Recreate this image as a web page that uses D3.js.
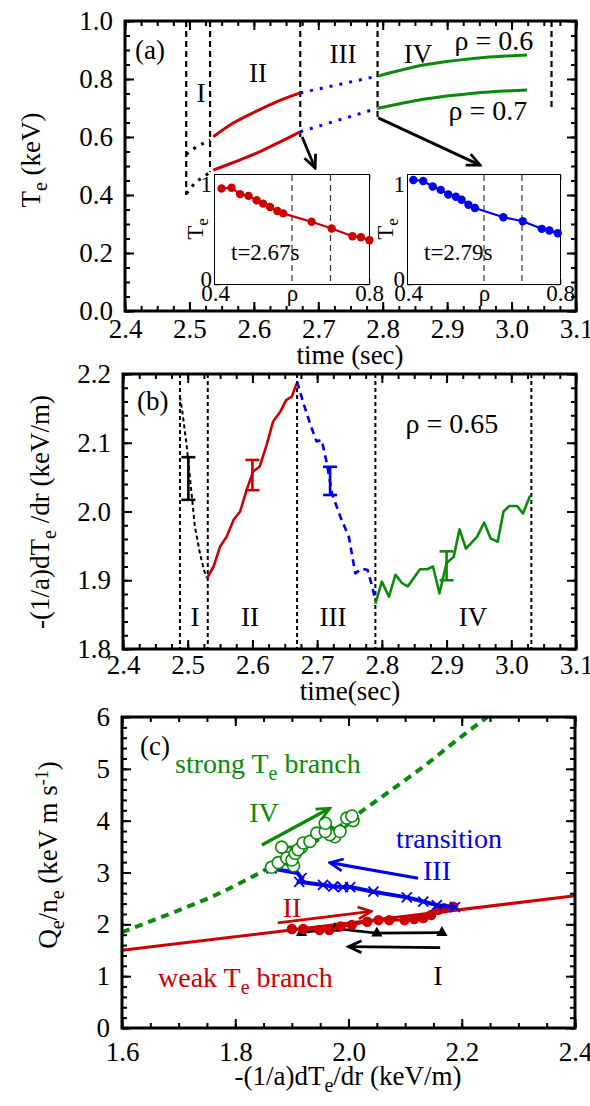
<!DOCTYPE html>
<html>
<head>
<meta charset="utf-8">
<script src="https://cdn.jsdelivr.net/npm/d3@7"></script>
<style>
body { margin: 0; background: #fff; }
</style>
</head>
<body>
<script>
var width = 590;
var height = 1106;
var serif = "'Liberation Serif', 'Times New Roman', serif";
var RED = "#cc0000", GREEN = "#0a8a0a", BLUE = "#0000ee";

// ---- panel (a): Te traces [time, Te]
var a06Pre = [[2.495, 0.54], [2.51, 0.565], [2.532, 0.59]];
var a06II = [[2.537, 0.601], [2.568, 0.648], [2.605, 0.69], [2.636, 0.722], [2.672, 0.752]];
var a06III = [[2.672, 0.752], [2.792, 0.81]];
var a06IV = [[2.793, 0.81], [2.863, 0.848], [2.941, 0.871], [3.024, 0.883]];
var a07Pre = [[2.495, 0.405], [2.51, 0.445], [2.532, 0.478]];
var a07II = [[2.537, 0.486], [2.568, 0.512], [2.605, 0.545], [2.636, 0.578], [2.672, 0.618]];
var a07III = [[2.672, 0.618], [2.792, 0.699]];
var a07IV = [[2.793, 0.699], [2.863, 0.730], [2.941, 0.751], [3.024, 0.762]];
var aLinesT = [2.495, 2.532, 2.672, 2.792, 3.062];
var aLinesBottom = [0.40, 0.48, 0.60, 0.666, 0.70];
var aArrow1 = [[2.675, 0.60], [2.695, 0.493]];
var aArrow2 = [[2.793, 0.666], [2.951, 0.503]];

// insets: Te profiles [rho, Te]
var inset267 = [[0.417, 1.008], [0.443, 1.015], [0.465, 0.948], [0.487, 0.93], [0.508, 0.883],
  [0.525, 0.848], [0.543, 0.813], [0.562, 0.77], [0.577, 0.745], [0.651, 0.656],
  [0.703, 0.585], [0.757, 0.504], [0.779, 0.493], [0.801, 0.461]];
var inset279 = [[0.414, 1.098], [0.440, 1.087], [0.465, 1.028], [0.486, 0.993], [0.506, 0.944],
  [0.526, 0.92], [0.541, 0.889], [0.559, 0.836], [0.576, 0.802], [0.651, 0.704],
  [0.702, 0.662], [0.752, 0.582], [0.772, 0.565], [0.794, 0.536]];

// ---- panel (b): gradient [time, -(1/a)dTe/dr]
var bI = [[2.488, 2.167], [2.492, 2.143], [2.498, 2.099], [2.506, 2.026], [2.511, 1.978],
  [2.519, 1.939], [2.525, 1.915], [2.530, 1.903]];
var bII = [[2.530, 1.903], [2.540, 1.920], [2.550, 1.949], [2.560, 1.963], [2.571, 1.988],
  [2.581, 2.0], [2.591, 2.031], [2.601, 2.058], [2.611, 2.065], [2.622, 2.097], [2.632, 2.131],
  [2.643, 2.145], [2.652, 2.162], [2.661, 2.167], [2.668, 2.186]];
var bIII = [[2.669, 2.189], [2.679, 2.157], [2.689, 2.128], [2.699, 2.102], [2.707, 2.104],
  [2.715, 2.070], [2.723, 2.026], [2.736, 1.992], [2.749, 1.963], [2.759, 1.910], [2.769, 1.917],
  [2.778, 1.915], [2.785, 1.891], [2.790, 1.871]];
var bIV = [[2.790, 1.866], [2.800, 1.898], [2.811, 1.876], [2.821, 1.908], [2.831, 1.896],
  [2.840, 1.891], [2.849, 1.903], [2.859, 1.916], [2.870, 1.916], [2.879, 1.920], [2.889, 1.881],
  [2.900, 1.925], [2.911, 1.934], [2.920, 1.974], [2.930, 1.946], [2.947, 1.963], [2.958, 1.984],
  [2.968, 1.961], [2.979, 1.956], [2.988, 2.0], [2.997, 2.008], [3.009, 2.008], [3.018, 1.997],
  [3.029, 2.023]];
var bLinesT = [2.488, 2.531, 2.669, 2.79, 3.031];
var errT = [2.501, 2.600, 2.720, 2.900];
var errLo = [2.017, 2.031, 2.024, 1.900];
var errHi = [2.079, 2.075, 2.065, 1.942];
var errColor = ["#000", RED, BLUE, GREEN];

// ---- panel (c): flux vs gradient [gradient, Q/n]
var cWeak = [[1.6, 1.5], [2.4, 2.55]];
var cStrong = [[1.6, 1.85], [1.70, 2.27], [1.76, 2.54], [1.82, 2.86], [1.86, 3.09], [1.94, 3.59],
  [2.014, 4.11], [2.073, 4.57], [2.132, 5.04], [2.191, 5.55], [2.245, 6.0]];
var cI = [[2.165, 1.84], [2.05, 1.83], [1.976, 1.92], [1.917, 1.84]];
var cII = [[1.90, 1.91], [1.92, 1.91], [1.949, 1.89], [1.966, 1.89], [1.986, 1.96], [2.006, 1.99],
  [2.033, 2.05], [2.053, 2.08], [2.072, 2.08], [2.099, 2.08], [2.116, 2.10], [2.132, 2.12],
  [2.146, 2.18], [2.159, 2.28], [2.169, 2.31], [2.185, 2.34]];
var cIII = [[2.188, 2.33], [2.156, 2.37], [2.132, 2.44], [2.103, 2.52], [2.044, 2.63], [2.003, 2.72],
  [1.99, 2.72], [1.973, 2.73], [1.955, 2.76], [1.913, 2.82], [1.917, 2.89], [1.91, 2.99],
  [1.88, 3.05], [1.864, 3.08]];
var cIIIMarks = [2.188, 2.156, 2.132, 2.103, 2.044, 2.003, 1.99, 1.973, 1.955, 1.913, 1.917, 1.864];
var cIV = [[1.864, 3.10], [1.876, 3.19], [1.903, 3.13], [1.891, 3.28], [1.900, 3.24], [1.882, 3.49],
  [1.917, 3.49], [1.906, 3.37], [1.911, 3.44], [1.920, 3.57], [1.932, 3.60], [1.944, 3.76],
  [1.976, 3.69], [1.967, 3.73], [1.959, 3.79], [1.959, 3.95], [1.985, 3.79], [2.008, 4.0],
  [1.997, 4.05], [2.006, 4.09]];
var cArrowI = [[2.162, 1.55], [2.0, 1.57]];
var cArrowII = [[1.875, 2.03], [2.04, 2.25]];
var cArrowIII = [[2.123, 2.89], [1.967, 3.19]];
var cArrowIV = [[1.847, 3.53], [1.967, 4.24]];

var svg = d3.select("body").append("svg")
  .attr("width", width)
  .attr("height", height)
  .style("font-family", serif);

var defs = svg.append("defs");
function marker(id, color) {
  defs.append("marker").attr("id", id)
    .attr("viewBox", "0 0 16 16").attr("refX", 14).attr("refY", 8)
    .attr("markerWidth", 16).attr("markerHeight", 16)
    .attr("markerUnits", "userSpaceOnUse").attr("orient", "auto")
    .append("path").attr("d", "M1,2 L14,8 L1,14")
    .attr("fill", "none").attr("stroke", color).attr("stroke-width", 2.8);
}
marker("arrK", "#000"); marker("arrR", RED); marker("arrB", BLUE); marker("arrG", GREEN);

// frame with inward ticks on four sides
function frame(x, y, o) {
  var g = svg.append("g");
  var xr = x.range(), yr = y.range();
  var sides = [
    [d3.axisBottom, "translate(0," + yr[0] + ")", x, true, true],
    [d3.axisTop, "translate(0," + yr[1] + ")", x, false, true],
    [d3.axisLeft, "translate(" + xr[0] + ",0)", y, true, false],
    [d3.axisRight, "translate(" + xr[1] + ",0)", y, false, false]
  ];
  sides.forEach(function (s) {
    var horiz = s[4];
    if ((horiz ? o.xMinor : o.yMinor).length) {
      var mi = g.append("g").attr("transform", s[1])
        .call(s[0](s[2]).tickValues(horiz ? o.xMinor : o.yMinor).tickSize(-o.minLen).tickFormat(""));
      mi.select(".domain").remove();
      mi.selectAll("line").attr("stroke-width", o.tw);
    }
    var ma = g.append("g").attr("transform", s[1])
      .call(s[0](s[2]).tickValues(horiz ? o.xMajor : o.yMajor).tickSize(-o.majLen)
        .tickPadding(horiz ? o.xPad : o.yPad)
        .tickFormat(s[3] ? (horiz ? o.xFmt : o.yFmt) : function () { return ""; }));
    ma.select(".domain").remove();
    ma.selectAll("line").attr("stroke-width", o.tw);
    ma.attr("font-family", serif).attr("font-size", o.fs);
    ma.selectAll("text").attr("fill", "#000");
    if (!horiz && o.yDy) ma.selectAll("text").attr("dy", o.yDy);
  });
  g.append("rect").attr("x", xr[0]).attr("y", yr[1])
    .attr("width", xr[1] - xr[0]).attr("height", yr[0] - yr[1])
    .attr("fill", "none").attr("stroke", "#000").attr("stroke-width", o.bw);
  return g;
}

function rng(a, b, s) { return d3.range(a, b + s / 2, s); }

function path(g, data, x, y, color, w, dash, curve) {
  var line = d3.line().x(function (d) { return x(d[0]); }).y(function (d) { return y(d[1]); })
    .curve(curve || d3.curveLinear);
  return g.append("path").datum(data).attr("d", line)
    .attr("fill", "none").attr("stroke", color).attr("stroke-width", w)
    .attr("stroke-dasharray", dash || null).attr("stroke-linejoin", "round");
}

function text(x, y, parts, size, color, anchor, rot) {
  var t = svg.append("text").attr("font-size", size).attr("fill", color || "#000")
    .attr("font-family", serif).attr("text-anchor", anchor || "start");
  if (rot) t.attr("transform", "translate(" + x + "," + y + ") rotate(-90)");
  else t.attr("x", x).attr("y", y);
  parts.forEach(function (p) {
    if (typeof p === "string") t.append("tspan").text(p);
    else t.append("tspan").attr("font-size", p.size).attr("dy", p.dy).text(p.t);
  });
  return t;
}

// ================= panel (a)
var xa = d3.scaleLinear().domain([2.4, 3.1]).range([125, 576]);
var ya = d3.scaleLinear().domain([0, 1]).range([311, 21]);
var ga = svg.append("g");
aLinesT.forEach(function (t, i) {
  ga.append("line").attr("x1", xa(t)).attr("x2", xa(t)).attr("y1", ya(1)).attr("y2", ya(aLinesBottom[i]))
    .attr("stroke", "#000").attr("stroke-width", 2.2).attr("stroke-dasharray", "6,4");
});
path(ga, a06Pre, xa, ya, "#000", 3, "3,6");
path(ga, a07Pre, xa, ya, "#000", 3, "3,6");
path(ga, a06II, xa, ya, RED, 3, null, d3.curveMonotoneX);
path(ga, a07II, xa, ya, RED, 3, null, d3.curveMonotoneX);
path(ga, a06III, xa, ya, BLUE, 3, "3,7");
path(ga, a07III, xa, ya, BLUE, 3, "3,7");
path(ga, a06IV, xa, ya, GREEN, 3, null, d3.curveMonotoneX);
path(ga, a07IV, xa, ya, GREEN, 3, null, d3.curveMonotoneX);
path(ga, aArrow1, xa, ya, "#000", 2.8).attr("marker-end", "url(#arrK)");
path(ga, aArrow2, xa, ya, "#000", 2.8).attr("marker-end", "url(#arrK)");

frame(xa, ya, {
  xMinor: rng(2.4, 3.1, 0.025), xMajor: rng(2.4, 3.1, 0.1),
  yMinor: rng(0, 1, 0.05), yMajor: rng(0, 1, 0.2),
  minLen: 5, majLen: 9, tw: 2, bw: 3, fs: 27, xPad: 8, yPad: 12,
  xFmt: d3.format(".1f"), yFmt: d3.format(".1f")
});

text(135, 59, ["(a)"], 27);
text(201, 102, ["I"], 27, "#000", "middle");
text(258, 82, ["II"], 27, "#000", "middle");
text(343, 63, ["III"], 27, "#000", "middle");
text(418, 63, ["IV"], 27, "#000", "middle");
text(494, 50, ["\u03c1 = 0.6"], 28, "#000", "middle");
text(488, 120, ["\u03c1 = 0.7"], 28, "#000", "middle");
text(40, 160, ["T", { t: "e", size: 20, dy: 7 }, { t: " (keV)", size: 27, dy: -7 }], 27, "#000", "middle", true);
text(350, 364, ["time (sec)"], 27, "#000", "middle");

// insets
function inset(x0, x1, data, color, label, labX) {
  var xi = d3.scaleLinear().domain([0.4, 0.8]).range([x0, x1]);
  var yi = d3.scaleLinear().domain([0, 1.15]).range([284, 175]);
  var g = svg.append("g");
  g.append("rect").attr("x", x0).attr("y", 175).attr("width", x1 - x0).attr("height", 109).attr("fill", "#fff");
  [0.6, 0.7].forEach(function (r) {
    g.append("line").attr("x1", xi(r)).attr("x2", xi(r)).attr("y1", yi(1.15)).attr("y2", yi(0))
      .attr("stroke", "#333").attr("stroke-width", 1.2).attr("stroke-dasharray", "6,4");
  });
  frame(xi, yi, {
    xMinor: [], xMajor: rng(0.4, 0.8, 0.1),
    yMinor: [], yMajor: rng(0, 1.1, 0.1),
    minLen: 0, majLen: 5, tw: 1.5, bw: 2, fs: 23, xPad: 1, yPad: 3, yDy: "0.1em",
    xFmt: function (v) { return Math.abs(v - 0.4) < 1e-6 ? "0.4" : Math.abs(v - 0.6) < 1e-6 ? "\u03c1" : Math.abs(v - 0.8) < 1e-6 ? "0.8" : ""; },
    yFmt: function (v) { return Math.abs(v) < 1e-6 ? "0" : Math.abs(v - 1) < 1e-6 ? "1" : ""; }
  });
  path(g, data, xi, yi, color, 2.2);
  g.selectAll("circle").data(data).enter().append("circle")
    .attr("cx", function (d) { return xi(d[0]); }).attr("cy", function (d) { return yi(d[1]); })
    .attr("r", 4.2).attr("fill", color);
  // keep markers above frame ticks
  svg.node().appendChild(g.node());
  text(x0 + 16, 260, [label], 23);
  text(labX, 229, ["T", { t: "e", size: 17, dy: 5 }], 23, "#000", "middle", true);
}
inset(215, 369, inset267, RED, "t=2.67s", 203);
inset(408, 560, inset279, BLUE, "t=2.79s", 393);

// ================= panel (b)
var xb = d3.scaleLinear().domain([2.4, 3.1]).range([123, 576]);
var yb = d3.scaleLinear().domain([1.8, 2.2]).range([649, 374]);
var gb = svg.append("g");
bLinesT.forEach(function (t) {
  gb.append("line").attr("x1", xb(t)).attr("x2", xb(t)).attr("y1", yb(2.2)).attr("y2", yb(1.8))
    .attr("stroke", "#000").attr("stroke-width", 2).attr("stroke-dasharray", "4,3");
});
path(gb, bI, xb, yb, "#000", 2, "4,3");
path(gb, bII, xb, yb, RED, 2.6);
path(gb, bIII, xb, yb, BLUE, 2.6, "7,5");
path(gb, bIV, xb, yb, GREEN, 2.6);
errT.forEach(function (t, i) {
  var cx = xb(t);
  gb.append("line").attr("x1", cx).attr("x2", cx).attr("y1", yb(errLo[i])).attr("y2", yb(errHi[i]))
    .attr("stroke", errColor[i]).attr("stroke-width", 2.6);
  [errLo[i], errHi[i]].forEach(function (v) {
    gb.append("line").attr("x1", cx - 7).attr("x2", cx + 7).attr("y1", yb(v)).attr("y2", yb(v))
      .attr("stroke", errColor[i]).attr("stroke-width", 2.6);
  });
});
frame(xb, yb, {
  xMinor: rng(2.4, 3.1, 0.025), xMajor: rng(2.4, 3.1, 0.1),
  yMinor: rng(1.8, 2.2, 0.02), yMajor: rng(1.8, 2.2, 0.1),
  minLen: 5, majLen: 9, tw: 2, bw: 3, fs: 27, xPad: 6, yPad: 12,
  xFmt: d3.format(".1f"), yFmt: d3.format(".1f")
});
text(137, 410, ["(b)"], 27);
text(452, 433, ["\u03c1 = 0.65"], 28, "#000", "middle");
text(195, 626, ["I"], 27, "#000", "middle");
text(250, 626, ["II"], 27, "#000", "middle");
text(333, 626, ["III"], 27, "#000", "middle");
text(473, 626, ["IV"], 27, "#000", "middle");
text(49, 512, ["-(1/a)dT", { t: "e", size: 20, dy: 7 }, { t: " /dr (keV/m)", size: 27, dy: -7 }], 27, "#000", "middle", true);
text(350, 700, ["time(sec)"], 27, "#000", "middle");

// ================= panel (c)
var xc = d3.scaleLinear().domain([1.6, 2.4]).range([122, 575]);
var yc = d3.scaleLinear().domain([0, 6]).range([1028, 717]);
var gc = svg.append("g");
gc.append("clipPath").attr("id", "clipc").append("rect")
  .attr("x", 122).attr("y", 717).attr("width", 453).attr("height", 311);
path(gc, cWeak, xc, yc, RED, 3);
path(gc, cStrong, xc, yc, GREEN, 4, "8,6", d3.curveMonotoneX).attr("clip-path", "url(#clipc)");
path(gc, cI, xc, yc, "#000", 2.6);
gc.selectAll(".tri").data(cI).enter().append("path")
  .attr("transform", function (d) { return "translate(" + xc(d[0]) + "," + yc(d[1]) + ")"; })
  .attr("d", d3.symbol(d3.symbolTriangle, 55)).attr("fill", "#000");
path(gc, cII, xc, yc, RED, 2.6);
gc.selectAll(".dot").data(cII).enter().append("circle")
  .attr("cx", function (d) { return xc(d[0]); }).attr("cy", function (d) { return yc(d[1]); })
  .attr("r", 5.2).attr("fill", RED);
path(gc, cIII, xc, yc, BLUE, 4);
cIIIMarks.forEach(function (g) {
  var p = cIII.find(function (d) { return d[0] === g; });
  var cx = xc(p[0]), cy = yc(p[1]);
  gc.append("path").attr("d", "M" + (cx - 5) + "," + (cy - 5) + "L" + (cx + 5) + "," + (cy + 5) +
    "M" + (cx - 5) + "," + (cy + 5) + "L" + (cx + 5) + "," + (cy - 5))
    .attr("stroke", BLUE).attr("stroke-width", 1.8);
});
path(gc, cIV, xc, yc, GREEN, 3);
gc.selectAll(".ring").data(cIV).enter().append("circle")
  .attr("cx", function (d) { return xc(d[0]); }).attr("cy", function (d) { return yc(d[1]); })
  .attr("r", 6).attr("fill", "#fff").attr("stroke", GREEN).attr("stroke-width", 1.6);
path(gc, cArrowI, xc, yc, "#000", 2.8).attr("marker-end", "url(#arrK)");
path(gc, cArrowII, xc, yc, RED, 2.8).attr("marker-end", "url(#arrR)");
path(gc, cArrowIII, xc, yc, BLUE, 3.2).attr("marker-end", "url(#arrB)");
path(gc, cArrowIV, xc, yc, GREEN, 3.2).attr("marker-end", "url(#arrG)");

frame(xc, yc, {
  xMinor: rng(1.6, 2.4, 0.05), xMajor: rng(1.6, 2.4, 0.2),
  yMinor: rng(0, 6, 0.2), yMajor: rng(0, 6, 1),
  minLen: 5, majLen: 9, tw: 2, bw: 3, fs: 27, xPad: 14, yPad: 12,
  xFmt: d3.format(".1f"), yFmt: d3.format("d")
});
text(140, 755, ["(c)"], 27);
text(175, 773, ["strong T", { t: "e", size: 20, dy: 7 }, { t: " branch", size: 28, dy: -7 }], 28, GREEN);
text(264, 822, ["IV"], 28, GREEN, "middle");
text(449, 848, ["transition"], 28, BLUE, "middle");
text(437, 880, ["III"], 28, BLUE, "middle");
text(292, 917, ["II"], 28, RED, "middle");
text(158, 987, ["weak T", { t: "e", size: 20, dy: 7 }, { t: " branch", size: 28, dy: -7 }], 28, RED);
text(438, 985, ["I"], 28, "#000", "middle");
text(57, 855, ["Q", { t: "e", size: 20, dy: 7 }, { t: "/n", size: 27, dy: -7 }, { t: "e", size: 20, dy: 7 },
  { t: " (keV m s", size: 27, dy: -7 }, { t: "-1", size: 18, dy: -9 }, { t: ")", size: 27, dy: 9 }], 27, "#000", "middle", true);
text(348, 1085, ["-(1/a)dT", { t: "e", size: 20, dy: 7 }, { t: "/dr (keV/m)", size: 27, dy: -7 }], 27, "#000", "middle");
</script>
</body>
</html>
